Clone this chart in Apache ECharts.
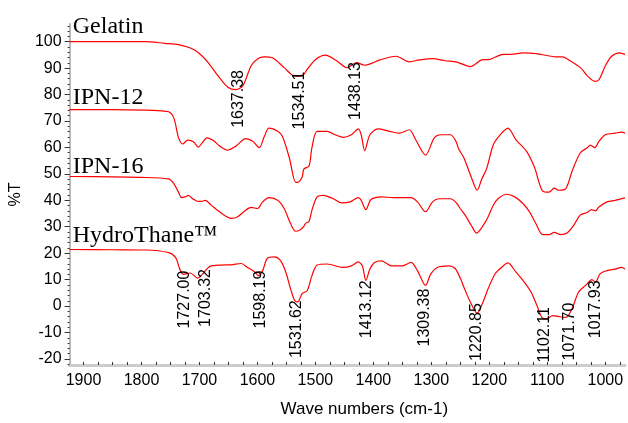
<!DOCTYPE html>
<html>
<head>
<meta charset="utf-8">
<script src="https://cdn.jsdelivr.net/npm/echarts@6/dist/echarts.min.js"></script>
<style>
  html, body { margin: 0; padding: 0; background: #fff; }
  #chart { width: 628px; height: 423px; }
</style>
</head>
<body>
<div id="chart"></div>
<script>
  // spectra: [wave number, %T]
  const gelatin = [[1924, 100], [1850, 100], [1793, 100], [1760, 99.4], [1736, 98.9], [1718, 97.8], [1705, 96.4],
    [1695, 94.5], [1685, 92.1], [1668, 87.1], [1651, 82.8], [1637, 81.9], [1625, 83.4], [1611, 90.8], [1600, 93.5],
    [1588, 94.3], [1574, 93.9], [1554, 90.2], [1537, 87.1], [1528, 87.0], [1520, 87.7], [1514, 89.6], [1500, 93.2],
    [1483, 94.9], [1463, 92.7], [1446, 90.2], [1429, 92.1], [1415, 91.1], [1403, 91.8], [1389, 93.1], [1361, 94.5],
    [1338, 92.4], [1321, 93.1], [1298, 93.6], [1276, 92.8], [1256, 92.3], [1233, 90.6], [1213, 93.1], [1199, 93.3],
    [1176, 95.2], [1162, 95.2], [1142, 95.8], [1119, 95.5], [1085, 94.3], [1074, 94.3], [1063, 93.1], [1043, 90.2],
    [1031, 87.1], [1018, 85.0], [1011, 85.6], [1000, 90.8], [989, 94.5], [975, 95.8], [966, 95.2]]
  const ipn12 = [[1924, 74.3], [1850, 74.3], [1793, 74.1], [1765, 73.8], [1753, 73.5], [1744, 71], [1736, 63.6],
    [1729, 61.3], [1720, 62.8], [1710, 62.1], [1702, 60.1], [1695, 61.8], [1687, 63.6], [1676, 62.6], [1665, 60.5],
    [1651, 59.0], [1637, 60.5], [1620, 63.3], [1608, 62.3], [1597, 59.9], [1588, 64.2], [1580, 67.3], [1565, 66.1],
    [1557, 64.2], [1545, 56.1], [1534, 46.8], [1531, 46.8], [1523, 48.7], [1520, 51.8], [1511, 53], [1506, 59.9],
    [1497, 66.1], [1480, 66.1], [1466, 64.8], [1452, 63.8], [1438, 64.8], [1426, 67], [1421, 64.8], [1415, 58.8],
    [1406, 64.8], [1392, 67], [1372, 66.1], [1355, 65.4], [1338, 66.7], [1327, 62.9], [1310, 57.1], [1295, 63.6],
    [1284, 64.8], [1267, 64.8], [1258, 62.5], [1253, 59.5], [1244, 56.1], [1230, 48.1], [1221, 43.8], [1213, 48.1],
    [1205, 51.8], [1193, 61.1], [1182, 64.6], [1168, 67.3], [1154, 62.9], [1136, 58.6], [1122, 52.4], [1108, 43.5],
    [1097, 43.1], [1088, 44.6], [1080, 43.8], [1068, 44.4], [1057, 51.2], [1043, 58], [1031, 59.9], [1026, 60.9],
    [1018, 59.9], [1011, 62.3], [1000, 64.8], [983, 65.4], [972, 65.8], [966, 65.4]]
  const ipn16 = [[1924, 49], [1850, 48.9], [1804, 48.7], [1753, 48.1], [1744, 46.2], [1736, 43], [1731, 41],
    [1725, 41.3], [1719, 41.9], [1713, 40.8], [1707, 40], [1702, 39.6], [1696, 39.6], [1690, 40], [1679, 38],
    [1662, 35.1], [1645, 33.2], [1634, 33.8], [1622, 36], [1611, 37.3], [1600, 36.9], [1591, 39.4], [1580, 41],
    [1565, 40], [1554, 36.9], [1543, 31.3], [1534, 28.3], [1526, 28.9], [1520, 30.1], [1517, 31.3], [1511, 32],
    [1506, 36.3], [1497, 41.3], [1486, 41.9], [1469, 40.6], [1455, 39], [1440, 39.4], [1426, 41], [1421, 40],
    [1413, 36.5], [1404, 40.3], [1386, 41.3], [1366, 41], [1335, 41], [1324, 39.4], [1310, 35.7], [1298, 39.4],
    [1287, 40.6], [1267, 40.6], [1256, 38.8], [1250, 36.8], [1242, 34.5], [1230, 30.1], [1222, 27.6], [1210, 30.7],
    [1202, 33.8], [1193, 38.2], [1185, 40.6], [1170, 42.3], [1156, 41.3], [1142, 38.8], [1131, 35.7], [1120, 31.3],
    [1108, 27], [1097, 27], [1088, 27.9], [1077, 27], [1066, 27.6], [1054, 30.7], [1043, 34.5], [1031, 35.4],
    [1024, 36.5], [1017, 36], [1011, 37.5], [997, 39.4], [983, 40], [966, 40.9]]
  const hydro = [[1924, 21.4], [1850, 21.3], [1793, 21.2], [1753, 20.2], [1741, 18.3], [1733, 13.4], [1727, 12.0],
    [1716, 12.5], [1703, 10.6], [1693, 12.5], [1682, 15], [1662, 15.5], [1645, 15.6], [1628, 16.1], [1617, 14.6],
    [1605, 13], [1598, 11.5], [1591, 13.4], [1583, 18], [1571, 18.6], [1560, 17.1], [1551, 12.8], [1543, 6.6],
    [1536, 2.2], [1531, 1.6], [1528, 2.2], [1523, 4.7], [1514, 5.9], [1506, 11.5], [1497, 15.5], [1480, 15.9],
    [1452, 14.6], [1438, 15.2], [1426, 16.7], [1419, 15.2], [1413, 9.7], [1406, 14], [1398, 16.5], [1386, 17.1],
    [1369, 15.2], [1350, 15.2], [1335, 16.5], [1324, 13.4], [1310, 7.8], [1301, 12.2], [1290, 14.6], [1270, 15.2],
    [1259, 14.2], [1250, 10.5], [1244, 7.2], [1233, 1.6], [1221, -2.7], [1213, 0.4], [1202, 6.6], [1190, 12.2],
    [1179, 14.6], [1168, 16.3], [1154, 12.8], [1142, 9.7], [1128, 5.3], [1117, -0.3], [1108, -4.6], [1100, -4.8],
    [1091, -3.6], [1080, -4], [1068, -4.3], [1057, -0.8], [1046, 5.3], [1034, 7.8], [1023, 10], [1017, 9],
    [1009, 12.2], [997, 13.4], [983, 14], [972, 14.6], [966, 14]]

  // curve names, left-aligned text placed at [wave number, %T]
  const curveNames = ['Gelatin', 'IPN-12', 'IPN-16', 'HydroThane™']
  const curveNameX = [1918.5, 1918.5, 1918.5, 1918.5]
  const curveNameY = [105.8, 79.0, 52.6, 26.6]

  // peak labels: text, wave number of the label, %T of the label's top end
  const peakLabels = ['1637.38', '1534.51', '1438.13', '1727.00', '1703.32', '1598.19', '1531.62',
    '1413.12', '1309.38', '1220.85', '1102.11', '1071.70', '1017.93']
  const peakLabelX = [1632.5, 1527.5, 1430, 1726, 1688.6, 1594, 1531.8, 1412, 1311, 1221.6, 1105.5, 1062.3, 1017]
  const peakLabelTop = [89.3, 88.7, 92.3, 13.4, 14.0, 13.4, 2.2, 9.7, 6.6, 1.1, -0.4, 1.3, 9.7]

  const yTicks = [-20, -10, 0, 10, 20, 30, 40, 50, 60, 70, 80, 90, 100]
  const xTicks = [1900, 1800, 1700, 1600, 1500, 1400, 1300, 1200, 1100, 1000]

  let yMinor = []
  for (let v = -22; v <= 106; v += 2) yMinor.push(v)
  let xMinor = []
  for (let v = 975; v <= 1900; v += 25) xMinor.push(v)

  const font = 'Liberation Sans, Arial, Helvetica, sans-serif'
  const serif = 'Liberation Serif, Times New Roman, serif'

  const chart = echarts.init(document.getElementById('chart'))

  const lineSeries = (name, data) => ({
    name: name,
    type: 'line',
    data: data,
    smooth: 0.3,
    symbol: 'none',
    lineStyle: { color: '#ff0000', width: 1.2 },
    silent: true,
    z: 3
  })

  const textSeries = (names, xs, ys, label) => ({
    type: 'scatter',
    symbolSize: 0,
    silent: true,
    z: 5,
    itemStyle: { opacity: 1 },
    data: names.map((n, i) => ({ name: n, value: [xs[i], ys[i]] })),
    label: Object.assign({ show: true, position: 'inside', formatter: '{b}', color: '#000' }, label)
  })

  chart.setOption({
    animation: false,
    backgroundColor: '#fff',
    grid: { left: 63, right: 3, top: 24, bottom: 52 },
    xAxis: {
      type: 'value',
      inverse: true,
      min: 966,
      max: 1924,
      name: 'Wave numbers (cm-1)',
      nameLocation: 'middle',
      nameGap: 36,
      nameTextStyle: { color: '#000', fontSize: 17, fontFamily: font, padding: [0, 0, 0, 34] },
      axisLine: { onZero: false, lineStyle: { color: '#cccccc', width: 3 } },
      axisTick: { customValues: xMinor, inside: true, length: 3, lineStyle: { color: '#333', width: 1 } },
      axisLabel: { customValues: xTicks, formatter: (v) => String(v), color: '#000', fontSize: 16, fontFamily: font, margin: 8 },
      splitLine: { show: false }
    },
    yAxis: [{
      type: 'value',
      position: 'left',
      min: -22.3,
      max: 106.7,
      name: '%T',
      nameLocation: 'middle',
      nameGap: 37,
      nameTextStyle: { color: '#000', fontSize: 16, fontFamily: font },
      axisLine: { onZero: false, lineStyle: { color: '#bbbbbb', width: 2 } },
      axisTick: { customValues: yTicks, length: 5, lineStyle: { color: '#333', width: 1 } },
      axisLabel: { customValues: yTicks, color: '#000', fontSize: 16, fontFamily: font, margin: 8 },
      splitLine: { show: false }
    }, {
      type: 'value',
      position: 'left',
      min: -22.3,
      max: 106.7,
      axisLine: { show: false, onZero: false },
      axisTick: { customValues: yMinor, length: 2, lineStyle: { color: '#333', width: 1 } },
      axisLabel: { show: false },
      splitLine: { show: false }
    }],
    series: [
      lineSeries('Gelatin', gelatin),
      lineSeries('IPN-12', ipn12),
      lineSeries('IPN-16', ipn16),
      lineSeries('HydroThane', hydro),
      textSeries(curveNames, curveNameX, curveNameY, {
        align: 'left', verticalAlign: 'middle', fontSize: 24, fontFamily: serif
      }),
      textSeries(peakLabels, peakLabelX, peakLabelTop, {
        rotate: 90, align: 'right', verticalAlign: 'middle', fontSize: 16, fontFamily: font
      })
    ]
  })
</script>
</body>
</html>
